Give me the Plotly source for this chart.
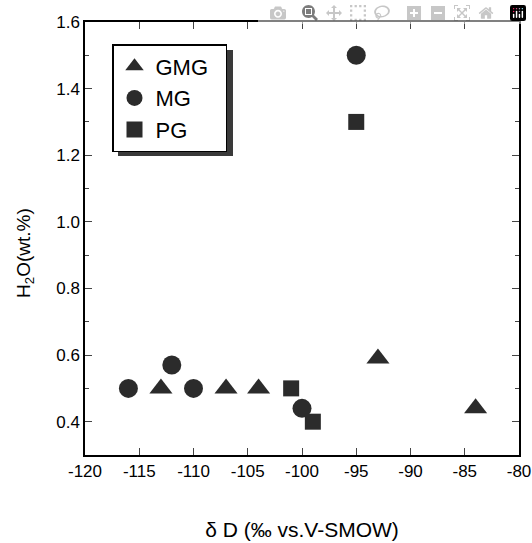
import plotly.graph_objects as go

gmg_x = [-113, -107, -104, -93, -84]
gmg_y = [0.50, 0.50, 0.50, 0.59, 0.44]
mg_x = [-116, -112, -110, -100, -95]
mg_y = [0.50, 0.57, 0.50, 0.44, 1.50]
pg_x = [-101, -99, -95]
pg_y = [0.50, 0.40, 1.30]

x_ticks = [-120, -115, -110, -105, -100, -95, -90, -85, -80]
x_labels = ["-120", "-115", "-110", "-105", "-100", "-95", "-90", "-85", "-80"]
y_ticks = [0.4, 0.6, 0.8, 1.0, 1.2, 1.4, 1.6]
y_labels = ["0.4", "0.6", "0.8", "1.0", "1.2", "1.4", "1.6"]

col = "#2b2b2b"
pad = "\u00a0\u00a0"
fig = go.Figure()
fig.add_trace(go.Scatter(x=gmg_x, y=gmg_y, mode="markers", name="GMG" + pad,
                         marker=dict(symbol="triangle-up", size=20, color=col, line=dict(width=0))))
fig.add_trace(go.Scatter(x=mg_x, y=mg_y, mode="markers", name="MG" + pad,
                         marker=dict(symbol="circle", size=19, color=col, line=dict(width=0))))
fig.add_trace(go.Scatter(x=pg_x, y=pg_y, mode="markers", name="PG" + pad,
                         marker=dict(symbol="square", size=16, color=col, line=dict(width=0))))

# body margin is removed below, so the figure fills the whole window
W, H = 532, 543
L, R, T, B = 85, 13, 22, 88
pw, ph = W - L - R, H - T - B

def px_x(p):
    return (p - L) / pw

def px_y(p):
    return (H - B - p) / ph

font = "Liberation Sans, Arial, sans-serif"
fig.update_layout(
    width=W, height=H,
    margin=dict(l=L, r=R, t=T, b=B),
    paper_bgcolor="white", plot_bgcolor="white",
    font=dict(family=font, color="black", size=17),
    showlegend=True,
    legend=dict(x=px_x(112), y=px_y(44), xanchor="left", yanchor="top",
                bordercolor="black", borderwidth=1.5, bgcolor="white",
                font=dict(size=22, family=font), itemsizing="trace",
                tracegroupgap=0, itemwidth=32),
    shapes=[dict(type="rect", xref="paper", yref="paper", layer="below",
                 x0=px_x(118), x1=px_x(233), y0=px_y(156), y1=px_y(50),
                 fillcolor="#3a3a3a", line=dict(width=0))],
    annotations=[dict(text="H<sub>2</sub>O(wt.%)", xref="paper", yref="paper",
                      x=px_x(25), y=px_y(253), xanchor="center", yanchor="middle",
                      textangle=-90, showarrow=False, font=dict(size=19))],
    xaxis=dict(range=[-120, -80], tickvals=x_ticks, ticktext=x_labels, ticks="inside", ticklen=7,
               showline=True, linecolor="black", linewidth=1.5, mirror="allticks",
               showgrid=False, zeroline=False, tickfont=dict(size=17), automargin=False,
               ticklabeloverflow="allow",
               title=dict(text="δ D (‰ vs.V-SMOW)", font=dict(size=21), standoff=42)),
    yaxis=dict(range=[0.3, 1.6], tickvals=y_ticks, ticktext=y_labels, ticks="inside", ticklen=7,
               showline=True, linecolor="black", linewidth=1.5, mirror="allticks",
               showgrid=False, zeroline=False, tickfont=dict(size=17), automargin=False,
               ticklabeloverflow="allow",
               minor=dict(dtick=0.1, tick0=0.3, ticks="inside", ticklen=4, showgrid=False)),
)
fig.write_html("out.html",
               post_script="document.body.style.margin='0';document.body.style.overflow='hidden';")
